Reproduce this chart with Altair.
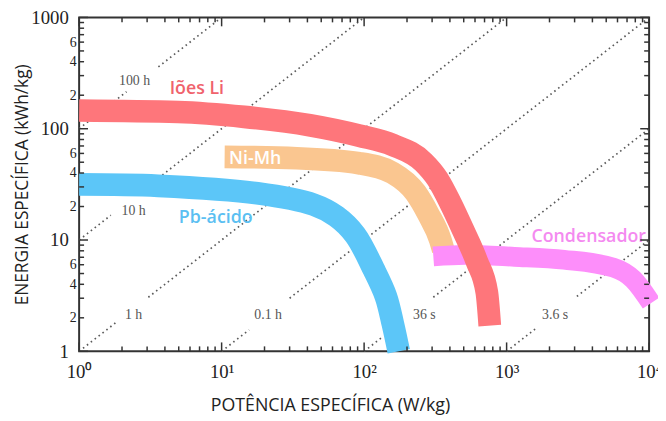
import json
import altair as alt
import pandas as pd

# ---------------- data ----------------
# Ragone bands (centre lines): P in W/kg, E in kWh/kg
li_P = [1, 4.95, 14.4, 41.5, 92.3, 158.9, 261, 327, 402, 495, 619, 726, 762]
li_E = [145.8, 141.3, 127.7, 107.4, 86.7, 71.5, 50.0, 35.4, 21.7, 12.3, 6.39, 3.40, 1.70]

nimh_P = [10.5, 33.7, 92.3, 158.9, 229.7, 282.7, 342.7, 359]
nimh_E = [55.9, 54.3, 49.0, 40.0, 26.6, 17.0, 10.0, 8.16]

pb_P = [1, 3.59, 17.8, 44.2, 63.9, 86.6, 117, 142, 159, 175]
pb_E = [31.6, 30.7, 26.3, 20.8, 16.3, 11.1, 5.43, 3.13, 1.77, 1.0]

cap_P = [306, 511, 1136, 2528, 5623, 7743, 10326]
cap_E = [7.14, 7.37, 7.07, 6.65, 5.65, 4.43, 2.71]

# constant-time diagonals (E = P * t), drawn as dotted segments with gaps for labels
diag_seg = ["100a", "100a", "100b", "100b",
            "10a", "10a", "10b", "10b",
            "1a", "1a", "1b", "1b",
            "01a", "01a", "01b", "01b",
            "36a", "36a", "36b", "36b",
            "3.6a", "3.6a", "3.6b", "3.6b"]
diag_P = [1, 2.15, 3.6, 10,
          1, 1.67, 3.6, 100,
          1, 1.8, 3.06, 1000,
          10, 15.6, 30, 10000,
          100, 135, 306, 10000,
          1000, 1641, 3112, 10000]
diag_E = [100, 215, 360, 1000,
          10, 16.7, 36, 1000,
          1, 1.8, 3.06, 1000,
          1, 1.56, 3.0, 1000,
          1, 1.35, 3.06, 100,
          1, 1.641, 3.112, 10]

diag_labels = ["100 h", "10 h", "1 h", "0.1 h", "36 s", "3.6 s"]
diag_lab_P = [2.45, 2.41, 2.41, 21.2, 265, 2188]
diag_lab_E = [266, 18.1, 2.13, 2.13, 2.13, 2.13]

band_labels = ["Iões Li", "Ni-Mh", "Pb-ácido", "Condensador"]
band_lab_P = [6.7, 17.2, 9.09, 3768]
band_lab_E = [226, 53.2, 15.7, 10.6]
band_lab_colors = ["#F0626C", "#FFFFFF", "#5BBFF2", "#F48AF0"]

x_major = [1, 10, 100, 1000, 10000]
x_labels = ["10⁰", "10¹", "10²", "10³", "10⁴"]
x_minor = [m * d for d in [1, 10, 100, 1000] for m in range(2, 10)]
y_major = [1, 10, 100, 1000]
y_minor = [m * d for d in [1, 10, 100] for m in range(2, 10)]
y_label_values = [1, 2, 4, 6, 10, 20, 40, 60, 100, 200, 400, 600, 1000]
y_labels = ["1", "2", "4", "6", "10", "2", "4", "6", "100", "2", "4", "6", "1000"]

# ---------------- chart ----------------
W, H = 577, 338
xs = alt.Scale(type="log", domain=[1, 10000], nice=False)
ys = alt.Scale(type="log", domain=[1, 1000], nice=False)

x_axis = alt.Axis(
    values=x_major,
    labelExpr=f"{json.dumps(x_labels, ensure_ascii=False)}[indexof({json.dumps(x_major)}, datum.value)]",
    ticks=False, domain=False, grid=False,
    labelFont="Liberation Serif", labelFontSize=19, labelColor="#222",
    labelPadding=12, labelFlush=False, labelOverlap=False,
    title="POTÊNCIA ESPECÍFICA (W/kg)", titleFont="Open Sans", titleFontSize=18,
    titleFontWeight="normal", titleColor="#222",
    titleX=254, titleY=55, titleAlign="center", titleBaseline="middle",
)
y_axis = alt.Axis(
    values=y_label_values,
    labelExpr=f"{json.dumps(y_labels)}[indexof({json.dumps(y_label_values)}, datum.value)]",
    ticks=False, domain=False, grid=False,
    labelFont="Liberation Serif", labelColor="#222",
    labelFontSize={"condition": {"test": f"indexof({json.dumps(y_major)}, datum.value) >= 0", "value": 19}, "value": 14},
    labelPadding={"condition": {"test": f"indexof({json.dumps(y_major)}, datum.value) >= 0", "value": 11}, "value": 3},
    labelFlush=False, labelOverlap=False,
    title="ENERGIA ESPECÍFICA (kWh/kg)", titleFont="Open Sans", titleFontSize=17.5,
    titleFontWeight="normal", titleColor="#222",
    titleX=-57, titleY=169, titleAlign="center", titleBaseline="middle",
)


def X():
    return alt.X("P:Q", scale=xs, axis=x_axis)


def Y():
    return alt.Y("E:Q", scale=ys, axis=y_axis)


diag_df = pd.DataFrame({"seg": diag_seg, "P": diag_P, "E": diag_E})
diag = alt.Chart(diag_df).mark_line(
    color="#5a5a5a", strokeWidth=1.7, strokeDash=[1.6, 3.4]
).encode(x=X(), y=Y(), detail="seg:N")

diag_text = alt.Chart(pd.DataFrame({"t": diag_labels, "P": diag_lab_P, "E": diag_lab_E})).mark_text(
    font="Liberation Serif", fontSize=14, color="#555"
).encode(x=X(), y=Y(), text="t:N")


def band(P, E, color, width, interp="monotone"):
    df = pd.DataFrame({"P": P, "E": E, "i": list(range(len(P)))})
    return alt.Chart(df).mark_line(
        color=color, strokeWidth=width, strokeCap="butt", strokeJoin="round",
        interpolate=interp,
    ).encode(x=X(), y=Y(), order="i:Q")


orange = band(nimh_P, nimh_E, "#FAC690", 23)
blue = band(pb_P, pb_E, "#5CC6F8", 23, "catmull-rom")
pink = band(cap_P, cap_E, "#FD8EFA", 20)
red = band(li_P, li_E, "#FE767B", 23)

band_text = alt.Chart(pd.DataFrame({
    "t": band_labels, "P": band_lab_P, "E": band_lab_E, "c": band_lab_colors
})).mark_text(font="Open Sans", fontSize=18, fontWeight=600).encode(
    x=X(), y=Y(), text="t:N", color=alt.Color("c:N", scale=None)
)

TICK = "#333"
MAJ, MIN = 9, 5
xmaj_df = pd.DataFrame({"P": x_major})
xmin_df = pd.DataFrame({"P": x_minor})
ymaj_df = pd.DataFrame({"E": y_major})
ymin_df = pd.DataFrame({"E": y_minor})


def xticks(df, ln):
    bottom = alt.Chart(df).mark_rule(color=TICK, strokeWidth=1.5).encode(
        x=X(), y=alt.value(H), y2=alt.value(H - ln))
    top = alt.Chart(df).mark_rule(color=TICK, strokeWidth=1.5).encode(
        x=X(), y=alt.value(0), y2=alt.value(ln))
    return [bottom, top]


def yticks(df, ln):
    left = alt.Chart(df).mark_rule(color=TICK, strokeWidth=1.5).encode(
        y=Y(), x=alt.value(0), x2=alt.value(ln))
    right = alt.Chart(df).mark_rule(color=TICK, strokeWidth=1.5).encode(
        y=Y(), x=alt.value(W), x2=alt.value(W - ln))
    return [left, right]


layers = [diag, diag_text, orange, blue, pink, red, band_text]
layers += xticks(xmaj_df, MAJ) + xticks(xmin_df, MIN) + yticks(ymaj_df, MAJ) + yticks(ymin_df, MIN)

chart = alt.layer(*layers).properties(
    width=W, height=H,
    autosize=alt.AutoSizeParams(type="none"),
    padding={"left": 72, "top": 7, "right": 9, "bottom": 68},
    background="white",
).configure_view(stroke="#333", strokeWidth=2)

chart.save("out.html", embed_options={"renderer": "svg", "actions": False})
